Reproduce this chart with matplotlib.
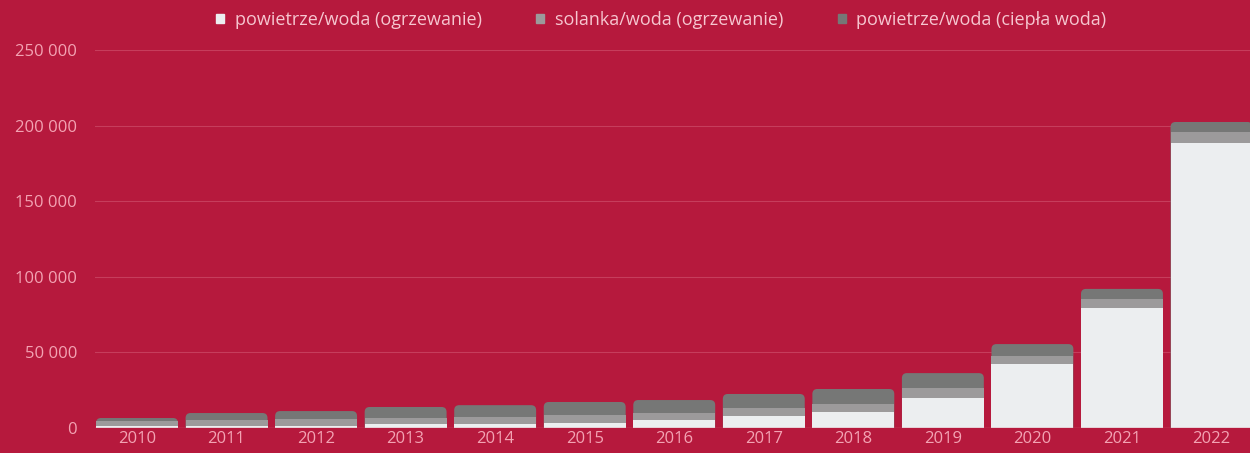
import matplotlib
matplotlib.use("Agg")
import matplotlib.pyplot as plt
import numpy as np
from matplotlib.patches import FancyBboxPatch

years = ["2010", "2011", "2012", "2013", "2014", "2015", "2016", "2017", "2018", "2019", "2020", "2021", "2022"]
air_water_heating = [1300, 1300, 1300, 2600, 2600, 3300, 5300, 7900, 10600, 19800, 42300, 79400, 188500]
brine_water_heating = [3300, 4000, 4600, 4000, 4600, 5300, 4600, 5300, 5300, 6600, 5300, 6000, 7300]
air_water_dhw = [2000, 4600, 5300, 7300, 7900, 8600, 8600, 9300, 9900, 9900, 7900, 6600, 6600]
series_labels = ["powietrze/woda (ogrzewanie)", "solanka/woda (ogrzewanie)", "powietrze/woda (ciepła woda)"]
yticks = [0, 50000, 100000, 150000, 200000, 250000]
ytick_labels = ["0", "50 000", "100 000", "150 000", "200 000", "250 000"]

BG = "#b6193d"
C_WHITE = "#eceef0"
C_LIGHT = "#9c9a9b"
C_DARK = "#767776"
TXT = "#f3a3b3"
LEG_TXT = "#f6c6d0"

plt.rcParams['font.family'] = ['Open Sans', 'DejaVu Sans']

fig = plt.figure(figsize=(12.5, 4.53), dpi=100, facecolor=BG)
ax = fig.add_axes([0.076, 0.0552, 0.924, 0.8344], facecolor=BG)
ax.set_xlim(-0.469, 12.43)
ax.set_ylim(0, 250000)

x = np.arange(len(years))
w = 0.915
b1 = np.array(air_water_heating)
b2 = np.array(brine_water_heating)
b3 = np.array(air_water_dhw)
total = b1 + b2 + b3

# rounded top segment (drawn full height behind, extended below axis so bottom corners are clipped)
fig.canvas.draw()
bbox = ax.get_window_extent()
px_per_x = bbox.width / (12.43 + 0.469)
px_per_y = bbox.height / 250000
aspect = px_per_x / px_per_y
r = 5 / px_per_x
for xi, t in zip(x, total):
    p = FancyBboxPatch((xi - w / 2 + r, -20000), w - 2 * r, t + 20000 - r * aspect,
                       boxstyle=f"round,pad={r},rounding_size={r}", mutation_aspect=aspect,
                       facecolor=C_DARK, edgecolor='none', zorder=2)
    ax.add_patch(p)

ax.bar(x, b1, width=w, color=C_WHITE, zorder=3, label=series_labels[0])
ax.bar(x, b2, width=w, bottom=b1, color=C_LIGHT, zorder=3, label=series_labels[1])
ax.bar(x, b3, width=w, bottom=b1 + b2, color=C_DARK, zorder=1, alpha=0.0)
from matplotlib.patches import Patch
handles = [Patch(color=C_WHITE), Patch(color=C_LIGHT), Patch(color=C_DARK)]

ax.set_yticks(yticks)
ax.set_yticklabels(ytick_labels)
ax.set_xticks(x)
ax.set_xticklabels(years)
ax.tick_params(axis='both', length=0, colors=TXT, labelsize=12)
ax.tick_params(axis='y', pad=13)
ax.tick_params(axis='x', pad=2)
ax.grid(axis='y', color="#c63d5c", linewidth=0.8, zorder=0)
for s in ax.spines.values():
    s.set_visible(False)
ax.axhline(0, color="#cf5570", linewidth=1.0, zorder=4)

leg = fig.legend(handles, series_labels, loc='upper center', bbox_to_anchor=(0.529, 1.012), ncol=3,
                 frameon=False, fontsize=13, handlelength=0.45, handleheight=0.45, handletextpad=0.6,
                 columnspacing=3.0)
for t in leg.get_texts():
    t.set_color(LEG_TXT)

fig.savefig("out.png", dpi=100, facecolor=BG)
